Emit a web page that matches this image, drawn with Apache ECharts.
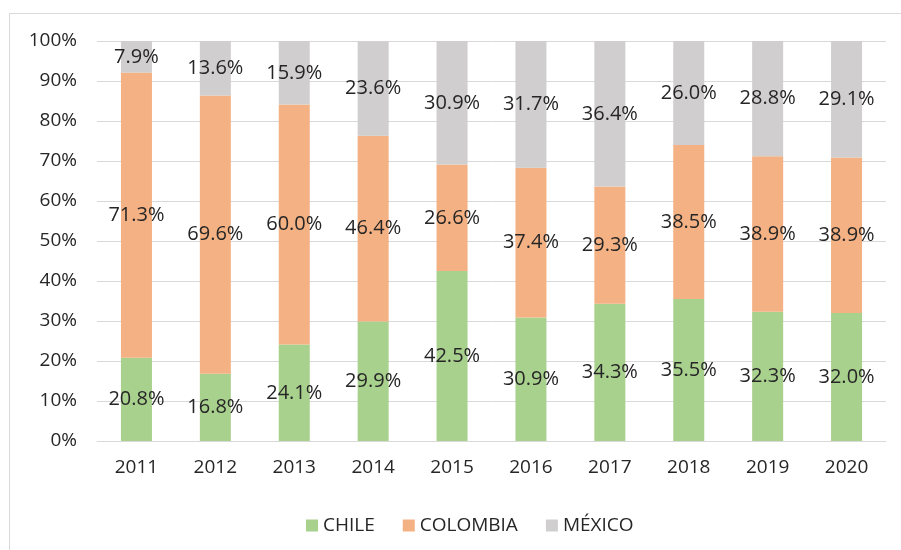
<!DOCTYPE html>
<html>
<head>
<meta charset="utf-8">
<script src="https://cdn.jsdelivr.net/npm/echarts@6/dist/echarts.min.js"></script>
<style>
html,body{margin:0;padding:0;background:#fff;}
#chart{width:901px;height:550px;}
</style>
</head>
<body>
<div id="chart"></div>
<script>
var categories = ['2011','2012','2013','2014','2015','2016','2017','2018','2019','2020'];
var chile = [20.8, 16.8, 24.1, 29.9, 42.5, 30.9, 34.3, 35.5, 32.3, 32.0];
var colombia = [71.3, 69.6, 60.0, 46.4, 26.6, 37.4, 29.3, 38.5, 38.9, 38.9];
var mexico = [7.9, 13.6, 15.9, 23.6, 30.9, 31.7, 36.4, 26.0, 28.8, 29.1];
var seriesNames = ['CHILE', 'COLOMBIA', 'MÉXICO'];
var colors = ['#A9D18E', '#F4B183', '#D0CECE'];

var FONT = '"Open Sans", "Liberation Sans", sans-serif';
var chart = echarts.init(document.getElementById('chart'), null, {renderer: 'canvas'});

function mkSeries(name, data, color) {
  return {
    name: name,
    type: 'bar',
    stack: 'total',
    data: data,
    barWidth: 31,
    itemStyle: {color: color},
    label: {
      show: true,
      position: 'inside',
      formatter: function (p) { return p.value.toFixed(1) + '%'; },
      color: '#262626',
      fontFamily: FONT,
      fontSize: 20
    }
  };
}

chart.setOption({
  animation: false,
  backgroundColor: '#fff',
  textStyle: {fontFamily: FONT},
  grid: {left: 97, right: 15, top: 41, bottom: 109},
  legend: {
    data: seriesNames,
    left: 301,
    top: 511,
    itemWidth: 12,
    itemHeight: 12,
    itemGap: 28,
    icon: 'rect',
    textStyle: {color: '#262626', fontSize: 19, fontFamily: FONT}
  },
  xAxis: {
    type: 'category',
    data: categories,
    axisLine: {lineStyle: {color: '#D9D9D9', width: 1}},
    axisTick: {show: false},
    axisLabel: {color: '#262626', fontSize: 19, margin: 17, fontFamily: FONT}
  },
  yAxis: {
    type: 'value',
    min: 0,
    max: 100,
    interval: 10,
    axisLine: {show: false},
    axisTick: {show: false},
    splitLine: {lineStyle: {color: '#D9D9D9', width: 1}},
    axisLabel: {color: '#262626', fontSize: 19, margin: 20, fontFamily: FONT, formatter: '{value}%'}
  },
  graphic: [
    {type: 'line', shape: {x1: 9.5, y1: 13, x2: 9.5, y2: 550}, style: {stroke: '#D9D9D9', lineWidth: 1}},
    {type: 'line', shape: {x1: 9, y1: 13.5, x2: 901, y2: 13.5}, style: {stroke: '#D9D9D9', lineWidth: 1}}
  ],
  series: [
    mkSeries(seriesNames[0], chile, colors[0]),
    mkSeries(seriesNames[1], colombia, colors[1]),
    mkSeries(seriesNames[2], mexico, colors[2])
  ]
});
</script>
</body>
</html>
